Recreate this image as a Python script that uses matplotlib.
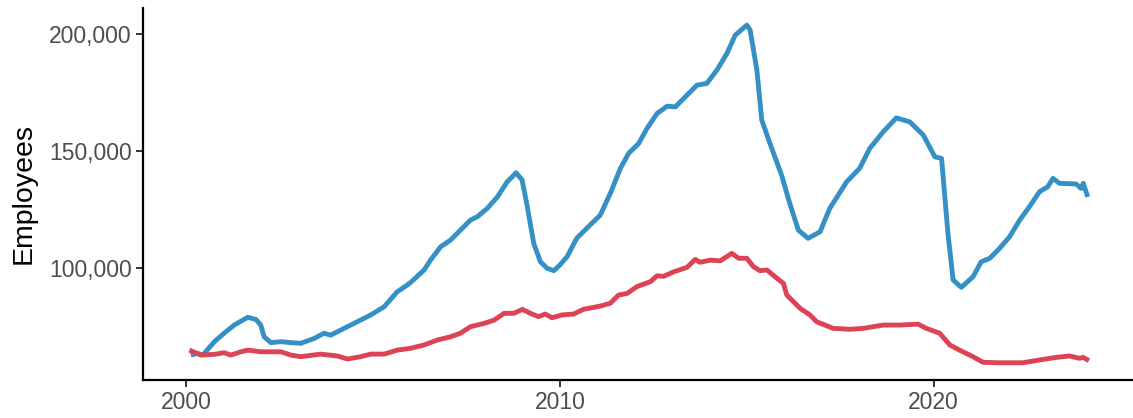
import numpy as np
import matplotlib
matplotlib.use("Agg")
from matplotlib import pyplot as plt
from matplotlib.ticker import FuncFormatter

plt.rcParams['font.family'] = ['Liberation Sans', 'DejaVu Sans']

# values (decimal year, employees)
blue_years = [2000.13, 2000.31, 2000.45, 2000.76, 2001.02, 2001.29, 2001.65, 2001.87, 2002.0,
              2002.09, 2002.27, 2002.54, 2002.80, 2003.07, 2003.43, 2003.69, 2003.87, 2004.23,
              2004.58, 2004.94, 2005.30, 2005.65, 2005.92, 2006.01, 2006.37, 2006.54, 2006.81,
              2007.08, 2007.34, 2007.61, 2007.79, 2008.06, 2008.33, 2008.59, 2008.83, 2008.99,
              2009.13, 2009.30, 2009.48, 2009.66, 2009.84, 2010.01, 2010.19, 2010.45, 2010.81,
              2011.08, 2011.35, 2011.62, 2011.84, 2012.11, 2012.33, 2012.60, 2012.87, 2013.09,
              2013.40, 2013.67, 2013.93, 2014.20, 2014.47, 2014.69, 2015.00, 2015.09, 2015.27,
              2015.40, 2015.62, 2015.93, 2016.15, 2016.38, 2016.64, 2016.96, 2017.22, 2017.67,
              2018.02, 2018.29, 2018.65, 2019.00, 2019.36, 2019.72, 2020.03, 2020.21, 2020.38,
              2020.52, 2020.74, 2021.05, 2021.27, 2021.50, 2021.76, 2022.03, 2022.30, 2022.56,
              2022.83, 2023.05, 2023.19, 2023.36, 2023.81, 2023.94, 2024.0, 2024.12]
blue_values = [63000, 63700, 63000, 68700, 72300, 75800, 79100, 78200, 75800,
               70800, 68300, 68700, 68300, 68000, 70100, 72300, 71500, 74400,
               77200, 80100, 83600, 90000, 92900, 94000, 99300, 103500, 109200,
               112100, 116300, 120600, 122000, 125600, 130500, 136900, 140800, 137700,
               126300, 110700, 102800, 100000, 99000, 101600, 104900, 112800, 118500,
               122700, 132000, 142700, 149100, 153300, 159700, 166100, 169200, 168900,
               173900, 178200, 178900, 184600, 191700, 199500, 203800, 201700, 184600,
               163300, 153300, 139800, 127700, 116300, 112800, 115600, 125600, 136900,
               142700, 151200, 158300, 164200, 162500, 156900, 147600, 146900, 114900,
               95000, 91900, 96400, 102800, 104300, 108500, 113500, 120600, 126300,
               132700, 134800, 138400, 136300, 136000, 134100, 136300, 130500]

red_years = [2000.09, 2000.40, 2000.76, 2001.02, 2001.20, 2001.47, 2001.65, 2002.0, 2002.54,
             2002.80, 2003.07, 2003.60, 2004.05, 2004.32, 2004.67, 2004.94, 2005.30, 2005.65,
             2006.01, 2006.37, 2006.72, 2007.08, 2007.34, 2007.61, 2007.97, 2008.24, 2008.51,
             2008.77, 2009.0, 2009.21, 2009.43, 2009.61, 2009.79, 2010.05, 2010.37, 2010.63,
             2011.08, 2011.35, 2011.57, 2011.80, 2012.06, 2012.42, 2012.60, 2012.78, 2013.04,
             2013.40, 2013.62, 2013.75, 2014.02, 2014.29, 2014.60, 2014.78, 2015.0, 2015.18,
             2015.35, 2015.54, 2015.81, 2015.98, 2016.07, 2016.43, 2016.69, 2016.87, 2017.31,
             2017.76, 2018.12, 2018.65, 2019.09, 2019.58, 2019.80, 2020.16, 2020.43, 2020.69,
             2021.05, 2021.32, 2021.76, 2022.38, 2022.83, 2023.27, 2023.63, 2023.90, 2024.0,
             2024.15]
red_values = [65100, 63000, 63300, 64000, 63000, 64400, 65100, 64400, 64400,
              63000, 62300, 63400, 62600, 61300, 62300, 63400, 63400, 65100,
              65900, 67300, 69400, 70800, 72300, 75100, 76500, 77900, 80800,
              80800, 82500, 80800, 79400, 80500, 78900, 80100, 80500, 82500,
              83900, 85100, 88600, 89300, 92200, 94300, 96800, 96600, 98500,
              100400, 103800, 102600, 103500, 103200, 106400, 104300, 104300, 100700,
              99000, 99300, 95700, 93600, 88600, 82900, 80100, 77200, 74400,
              74000, 74400, 75800, 75800, 76200, 74400, 72300, 67300, 65100,
              62300, 59900, 59700, 59700, 60900, 62000, 62600, 61600, 62000,
              60600]

x_ticks = [2000, 2010, 2020]
y_ticks = [100000, 150000, 200000]

fig = plt.figure(figsize=(11.33, 4.18), dpi=100)
ax = fig.add_axes([143 / 1133, 1 - 380 / 418, 1 - 143 / 1133 - 0.001, (380 - 8) / 418])

ax.plot(blue_years, blue_values, color='#3590c6', lw=3.5, solid_joinstyle='round', solid_capstyle='butt')
ax.plot(red_years, red_values, color='#dc4456', lw=3.5, solid_joinstyle='round', solid_capstyle='butt')

ax.set_xlim(1998.85, 2025.3)
ax.set_ylim(52350, 211100)
ax.set_xticks(x_ticks)
ax.set_yticks(y_ticks)
ax.yaxis.set_major_formatter(FuncFormatter(lambda v, _: f"{int(v):,}"))

for side in ['top', 'right']:
    ax.spines[side].set_visible(False)
for side in ['left', 'bottom']:
    ax.spines[side].set_linewidth(1.6)
    ax.spines[side].set_color('black')

ax.tick_params(axis='both', direction='out', length=5, width=1.4, color='#333333',
               labelsize=16.5, labelcolor='#4d4d4d', pad=3)
ax.set_ylabel('Employees', fontsize=20.5, color='black', labelpad=9)

fig.savefig('out.png', dpi=100)
